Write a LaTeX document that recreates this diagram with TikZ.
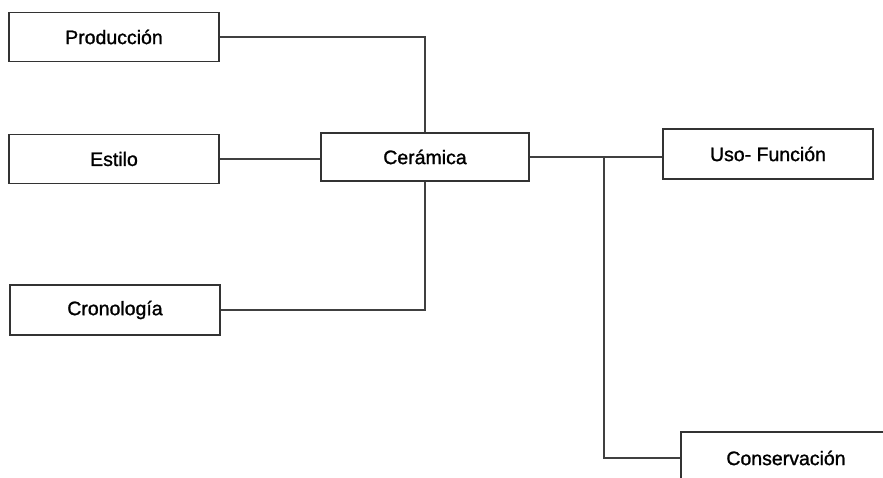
\documentclass[tikz,border=0pt]{standalone}
\usepackage{fontspec}
\setmainfont{Liberation Sans}[FakeBold=1.2]
\begin{document}
\begin{tikzpicture}[x=1pt,y=-1pt,
  boxnode/.style={draw=black!80, line width=1.6pt, fill=white, inner sep=0pt,
    minimum width=210pt, minimum height=49pt, font=\fontsize{19.5}{22}\selectfont},
  conn/.style={draw=black!75, line width=1.5pt}]
\useasboundingbox (0,0) rectangle (883,477);
\clip (0,0) rectangle (883,477);
\fill[white] (0,0) rectangle (883,477);
\node[boxnode] (prod) at (114,37) {Producción};
\node[boxnode] (estilo) at (114,159) {Estilo};
\node[boxnode, minimum width=208pt, minimum height=48pt] (cer) at (425,157) {Cerámica};
\node[boxnode, minimum height=50pt] (crono) at (115,310) {Cronología};
\node[boxnode, minimum height=50pt] (uso) at (768,154) {Uso- Función};
\node[boxnode, minimum height=52pt] (cons) at (786,458) {Conservación};
\coordinate (br) at (604,157);
\draw[conn] (prod.east) -| (cer.north);
\draw[conn] (crono.east) -| (cer.south);
\draw[conn] (estilo.east) -- (cer.west |- estilo.east);
\draw[conn] (cer.east) -- (cer.east -| uso.west);
\draw[conn] (br) |- (cons.west);
\end{tikzpicture}
\end{document}
